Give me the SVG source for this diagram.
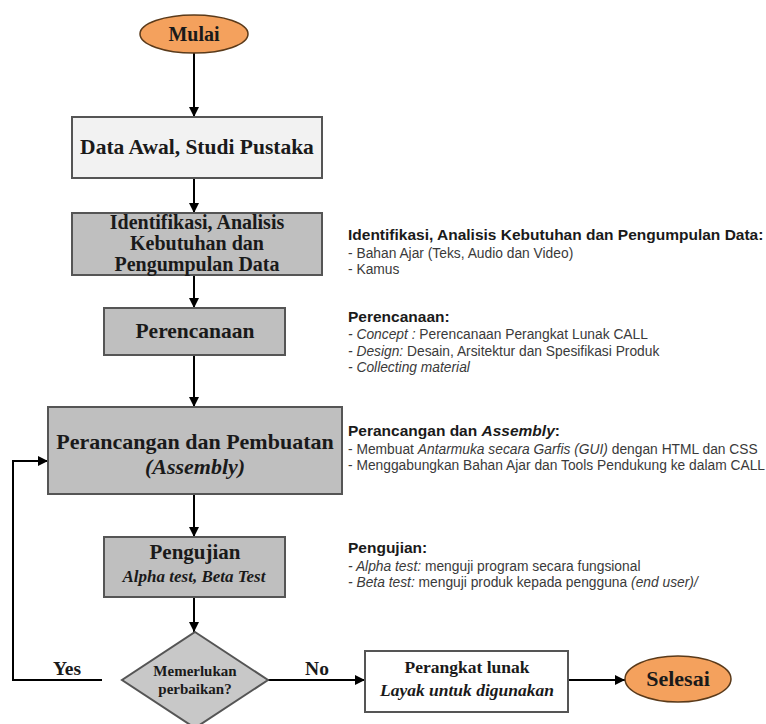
<svg xmlns="http://www.w3.org/2000/svg" width="766" height="724" viewBox="0 0 766 724">
<defs>
<marker id="ah" viewBox="0 0 10 10" refX="10" refY="5" markerWidth="10" markerHeight="10" markerUnits="userSpaceOnUse" orient="auto">
<path d="M0,0 L10,5 L0,10 z" fill="#000"/>
</marker>
<style>
.box{stroke:#555;stroke-width:2}
.lt{fill:#f2f2f2}
.gr{fill:#bfbfbf}
.wh{fill:#fff}
.oval{fill:#f4a15d;stroke:#5a3a1a;stroke-width:1.5}
.bt{font-family:"Liberation Serif",serif;font-weight:bold;fill:#1a1a1a;text-anchor:middle}
.it{font-style:italic}
.con{stroke:#000;stroke-width:2;fill:none}
.h{font-family:"Liberation Sans",Arial,sans-serif;font-weight:bold;font-size:15.5px;fill:#1a1a1a}
.b{font-family:"Liberation Sans",Arial,sans-serif;font-size:13.8px;fill:#3a3a3a}
</style>
</defs>
<rect width="766" height="724" fill="#fff"/>

<g id="connectors">
<line class="con" x1="194" y1="53" x2="194" y2="117" marker-end="url(#ah)"/>
<line class="con" x1="194" y1="178" x2="194" y2="213" marker-end="url(#ah)"/>
<line class="con" x1="194" y1="275" x2="194" y2="308" marker-end="url(#ah)"/>
<line class="con" x1="194" y1="355" x2="194" y2="407" marker-end="url(#ah)"/>
<line class="con" x1="194" y1="494" x2="194" y2="537" marker-end="url(#ah)"/>
<line class="con" x1="194" y1="597" x2="194" y2="632" marker-end="url(#ah)"/>
<line class="con" x1="267" y1="680" x2="365" y2="680" marker-end="url(#ah)"/>
<line class="con" x1="568" y1="680" x2="625" y2="680" marker-end="url(#ah)"/>
<polyline class="con" points="102,680 13,680 13,461 48,461" marker-end="url(#ah)"/>
<text class="bt" x="67" y="675" font-size="19.5">Yes</text>
<text class="bt" x="317" y="675" font-size="19.5">No</text>
</g>

<g id="mulai">
<ellipse class="oval" cx="194" cy="34" rx="54" ry="19"/>
<text class="bt" x="194" y="41" font-size="20">Mulai</text>
</g>

<g id="data-awal">
<rect class="box lt" x="72" y="117" width="250" height="61"/>
<text class="bt" x="197" y="154" font-size="21.5">Data Awal, Studi Pustaka</text>
</g>

<g id="identifikasi">
<rect class="box gr" x="72" y="213" width="250" height="62"/>
<text class="bt" x="197" y="229" font-size="20">Identifikasi, Analisis</text>
<text class="bt" x="197" y="250" font-size="20">Kebutuhan dan</text>
<text class="bt" x="197" y="271" font-size="20">Pengumpulan Data</text>
</g>

<g id="perencanaan">
<rect class="box gr" x="104" y="308" width="181" height="47"/>
<text class="bt" x="195" y="338" font-size="21.5">Perencanaan</text>
</g>

<g id="perancangan">
<rect class="box gr" x="48" y="407" width="294" height="87"/>
<text class="bt" x="195" y="449" font-size="22">Perancangan dan Pembuatan</text>
<text class="bt it" x="195" y="474" font-size="22">(Assembly)</text>
</g>

<g id="pengujian">
<rect class="box gr" x="104" y="537" width="181" height="60"/>
<text class="bt" x="195" y="559" font-size="21">Pengujian</text>
<text class="bt it" x="194" y="582" font-size="17">Alpha test, Beta Test</text>
</g>

<g id="keputusan">
<polygon class="box" fill="#c8c8c8" points="195,632 268,680 195,728 122,680"/>
<text class="bt" x="195" y="676" font-size="15">Memerlukan</text>
<text class="bt" x="195" y="694" font-size="15">perbaikan?</text>
</g>

<g id="layak">
<rect class="box wh" x="365" y="651" width="203" height="61"/>
<text class="bt" x="467" y="673" font-size="17.5">Perangkat lunak</text>
<text class="bt it" x="467" y="696" font-size="17.5">Layak untuk digunakan</text>
</g>

<g id="selesai">
<ellipse class="oval" cx="678" cy="679" rx="53" ry="23"/>
<text class="bt" x="678" y="686" font-size="22">Selesai</text>
</g>

<g id="keterangan">
<text class="h" x="348" y="240">Identifikasi, Analisis Kebutuhan dan Pengumpulan Data:</text>
<text class="b" x="348" y="258">- Bahan Ajar (Teks, Audio dan Video)</text>
<text class="b" x="348" y="274">- Kamus</text>

<text class="h" x="348" y="322">Perencanaan:</text>
<text class="b" x="348" y="339"><tspan font-style="italic">- Concept :</tspan> Perencanaan Perangkat Lunak CALL</text>
<text class="b" x="348" y="356"><tspan font-style="italic">- Design:</tspan> Desain, Arsitektur dan Spesifikasi Produk</text>
<text class="b" x="348" y="372" font-style="italic">- Collecting material</text>

<text class="h" x="348" y="436">Perancangan dan <tspan font-style="italic">Assembly</tspan>:</text>
<text class="b" x="348" y="454">- Membuat <tspan font-style="italic">Antarmuka secara Garfis (GUI)</tspan> dengan HTML dan CSS</text>
<text class="b" x="348" y="470">- Menggabungkan Bahan Ajar dan Tools Pendukung ke dalam CALL</text>

<text class="h" x="348" y="553">Pengujian:</text>
<text class="b" x="348" y="571"><tspan font-style="italic">- Alpha test:</tspan> menguji program secara fungsional</text>
<text class="b" x="348" y="587"><tspan font-style="italic">- Beta test:</tspan> menguji produk kepada pengguna <tspan font-style="italic">(end user)/</tspan></text>
</g>
</svg>
